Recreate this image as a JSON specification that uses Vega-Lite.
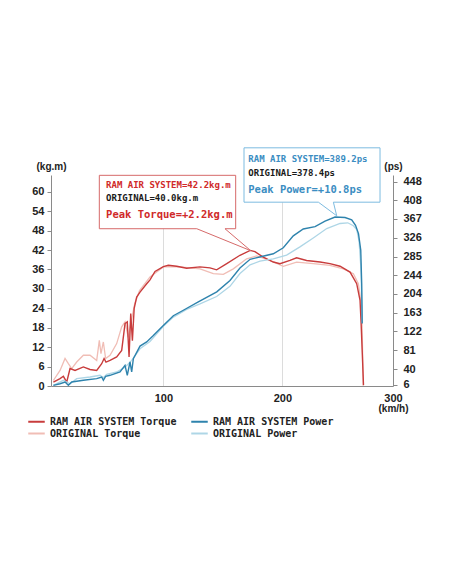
{
  "$schema": "https://vega.github.io/schema/vega-lite/v6.json",
  "width": 342,
  "height": 211,
  "autosize": {"type": "none"},
  "padding": {"left": 51, "top": 175, "right": 59, "bottom": 198},
  "background": "white",
  "config": {
    "view": {"stroke": null},
    "axis": {
      "labelFont": "Liberation Sans", "labelFontWeight": "bold", "labelFontSize": 11, "labelColor": "#222",
      "domainColor": "#8a8a8a", "tickColor": "#8a8a8a", "grid": false,
      "titleFont": "Liberation Sans", "titleFontWeight": "bold", "titleFontSize": 10, "titleColor": "#222",
      "labelOverlap": false, "labelFlush": false
    },
    "legend": {
      "orient": "none", "legendX": -21, "legendY": 240, "columns": 2, "columnPadding": 10, "rowPadding": -1,
      "symbolType": "M-1.5,0H1.5", "symbolSize": 121, "symbolStrokeWidth": 2,
      "labelFont": "DejaVu Sans Mono", "labelFontWeight": "bold", "labelFontSize": 10, "labelColor": "#222", "labelOffset": 7
    }
  },
  "datasets": {
    "torque": [
      {"series": "RAM AIR SYSTEM Torque", "kmh": 7.6, "v": 1.2},
      {"series": "RAM AIR SYSTEM Torque", "kmh": 13.2, "v": 2.3},
      {"series": "RAM AIR SYSTEM Torque", "kmh": 16, "v": 3.0},
      {"series": "RAM AIR SYSTEM Torque", "kmh": 18.8, "v": 1.2},
      {"series": "RAM AIR SYSTEM Torque", "kmh": 21.6, "v": 5.4},
      {"series": "RAM AIR SYSTEM Torque", "kmh": 25.8, "v": 4.8},
      {"series": "RAM AIR SYSTEM Torque", "kmh": 32.8, "v": 5.9},
      {"series": "RAM AIR SYSTEM Torque", "kmh": 38.4, "v": 5.1},
      {"series": "RAM AIR SYSTEM Torque", "kmh": 44, "v": 4.8},
      {"series": "RAM AIR SYSTEM Torque", "kmh": 48.2, "v": 6.9},
      {"series": "RAM AIR SYSTEM Torque", "kmh": 50.2, "v": 8.5},
      {"series": "RAM AIR SYSTEM Torque", "kmh": 51.8, "v": 7.4},
      {"series": "RAM AIR SYSTEM Torque", "kmh": 55.2, "v": 7.9},
      {"series": "RAM AIR SYSTEM Torque", "kmh": 60.8, "v": 9.0},
      {"series": "RAM AIR SYSTEM Torque", "kmh": 65, "v": 11.0},
      {"series": "RAM AIR SYSTEM Torque", "kmh": 67.8, "v": 19.3},
      {"series": "RAM AIR SYSTEM Torque", "kmh": 69.7, "v": 19.8},
      {"series": "RAM AIR SYSTEM Torque", "kmh": 71.2, "v": 9.0},
      {"series": "RAM AIR SYSTEM Torque", "kmh": 72.6, "v": 22.4},
      {"series": "RAM AIR SYSTEM Torque", "kmh": 74, "v": 14},
      {"series": "RAM AIR SYSTEM Torque", "kmh": 75.5, "v": 24},
      {"series": "RAM AIR SYSTEM Torque", "kmh": 77.6, "v": 27.5},
      {"series": "RAM AIR SYSTEM Torque", "kmh": 80.4, "v": 29},
      {"series": "RAM AIR SYSTEM Torque", "kmh": 86, "v": 31.6},
      {"series": "RAM AIR SYSTEM Torque", "kmh": 88.8, "v": 32.8},
      {"series": "RAM AIR SYSTEM Torque", "kmh": 93, "v": 35.4},
      {"series": "RAM AIR SYSTEM Torque", "kmh": 100, "v": 36.9},
      {"series": "RAM AIR SYSTEM Torque", "kmh": 104.2, "v": 37.3},
      {"series": "RAM AIR SYSTEM Torque", "kmh": 111.2, "v": 37},
      {"series": "RAM AIR SYSTEM Torque", "kmh": 119.6, "v": 36.4},
      {"series": "RAM AIR SYSTEM Torque", "kmh": 130.8, "v": 36.8},
      {"series": "RAM AIR SYSTEM Torque", "kmh": 139.2, "v": 36.5},
      {"series": "RAM AIR SYSTEM Torque", "kmh": 144.8, "v": 35.9},
      {"series": "RAM AIR SYSTEM Torque", "kmh": 153.3, "v": 37.8},
      {"series": "RAM AIR SYSTEM Torque", "kmh": 164.4, "v": 40.4},
      {"series": "RAM AIR SYSTEM Torque", "kmh": 173, "v": 41.9},
      {"series": "RAM AIR SYSTEM Torque", "kmh": 177, "v": 41.5},
      {"series": "RAM AIR SYSTEM Torque", "kmh": 184, "v": 39.8},
      {"series": "RAM AIR SYSTEM Torque", "kmh": 192.4, "v": 38.3},
      {"series": "RAM AIR SYSTEM Torque", "kmh": 198, "v": 37.8},
      {"series": "RAM AIR SYSTEM Torque", "kmh": 206.4, "v": 38.8},
      {"series": "RAM AIR SYSTEM Torque", "kmh": 212, "v": 39.6},
      {"series": "RAM AIR SYSTEM Torque", "kmh": 220.4, "v": 38.8},
      {"series": "RAM AIR SYSTEM Torque", "kmh": 231.7, "v": 38.3},
      {"series": "RAM AIR SYSTEM Torque", "kmh": 240, "v": 37.8},
      {"series": "RAM AIR SYSTEM Torque", "kmh": 248.5, "v": 37.0},
      {"series": "RAM AIR SYSTEM Torque", "kmh": 256.9, "v": 35.2},
      {"series": "RAM AIR SYSTEM Torque", "kmh": 262.5, "v": 31.6},
      {"series": "RAM AIR SYSTEM Torque", "kmh": 265.3, "v": 26.5},
      {"series": "RAM AIR SYSTEM Torque", "kmh": 266.2, "v": 19.4},
      {"series": "RAM AIR SYSTEM Torque", "kmh": 267.2, "v": 10},
      {"series": "RAM AIR SYSTEM Torque", "kmh": 268.2, "v": 0.3},
      {"series": "ORIGINAL Torque", "kmh": 7.6, "v": 1.7},
      {"series": "ORIGINAL Torque", "kmh": 13.2, "v": 4.8},
      {"series": "ORIGINAL Torque", "kmh": 17.4, "v": 8.5},
      {"series": "ORIGINAL Torque", "kmh": 20.2, "v": 6.9},
      {"series": "ORIGINAL Torque", "kmh": 23, "v": 5.4},
      {"series": "ORIGINAL Torque", "kmh": 27.2, "v": 7.4},
      {"series": "ORIGINAL Torque", "kmh": 32.8, "v": 9.5},
      {"series": "ORIGINAL Torque", "kmh": 38.4, "v": 9.5},
      {"series": "ORIGINAL Torque", "kmh": 44, "v": 7.9},
      {"series": "ORIGINAL Torque", "kmh": 46.2, "v": 14.1},
      {"series": "ORIGINAL Torque", "kmh": 47.6, "v": 10},
      {"series": "ORIGINAL Torque", "kmh": 49.6, "v": 13.6},
      {"series": "ORIGINAL Torque", "kmh": 51.5, "v": 8.5},
      {"series": "ORIGINAL Torque", "kmh": 55.2, "v": 9.5},
      {"series": "ORIGINAL Torque", "kmh": 60.8, "v": 13.1},
      {"series": "ORIGINAL Torque", "kmh": 65, "v": 18.3},
      {"series": "ORIGINAL Torque", "kmh": 67.8, "v": 19.8},
      {"series": "ORIGINAL Torque", "kmh": 70.5, "v": 15},
      {"series": "ORIGINAL Torque", "kmh": 73, "v": 20},
      {"series": "ORIGINAL Torque", "kmh": 76, "v": 25.5},
      {"series": "ORIGINAL Torque", "kmh": 80, "v": 29.5},
      {"series": "ORIGINAL Torque", "kmh": 88.8, "v": 33.7},
      {"series": "ORIGINAL Torque", "kmh": 100, "v": 36.8},
      {"series": "ORIGINAL Torque", "kmh": 114, "v": 36.8},
      {"series": "ORIGINAL Torque", "kmh": 130.8, "v": 36.2},
      {"series": "ORIGINAL Torque", "kmh": 142, "v": 34.7},
      {"series": "ORIGINAL Torque", "kmh": 150.4, "v": 34.5},
      {"series": "ORIGINAL Torque", "kmh": 158.8, "v": 36.2},
      {"series": "ORIGINAL Torque", "kmh": 170, "v": 39.3},
      {"series": "ORIGINAL Torque", "kmh": 178.4, "v": 40.2},
      {"series": "ORIGINAL Torque", "kmh": 189.6, "v": 38.8},
      {"series": "ORIGINAL Torque", "kmh": 200.8, "v": 37},
      {"series": "ORIGINAL Torque", "kmh": 212, "v": 38.3},
      {"series": "ORIGINAL Torque", "kmh": 226, "v": 37.8},
      {"series": "ORIGINAL Torque", "kmh": 240, "v": 37.3},
      {"series": "ORIGINAL Torque", "kmh": 251.3, "v": 36.2},
      {"series": "ORIGINAL Torque", "kmh": 259.7, "v": 34.7},
      {"series": "ORIGINAL Torque", "kmh": 263.9, "v": 31.6},
      {"series": "ORIGINAL Torque", "kmh": 266.7, "v": 24.4},
      {"series": "ORIGINAL Torque", "kmh": 268, "v": 0}
    ],
    "power": [
      {"series": "RAM AIR SYSTEM Power", "kmh": 7.6, "v": 4.5},
      {"series": "RAM AIR SYSTEM Power", "kmh": 13.2, "v": 8},
      {"series": "RAM AIR SYSTEM Power", "kmh": 17.4, "v": 11.7},
      {"series": "RAM AIR SYSTEM Power", "kmh": 20.2, "v": 4.5},
      {"series": "RAM AIR SYSTEM Power", "kmh": 23, "v": 11.7},
      {"series": "RAM AIR SYSTEM Power", "kmh": 32.8, "v": 15.4},
      {"series": "RAM AIR SYSTEM Power", "kmh": 44, "v": 19},
      {"series": "RAM AIR SYSTEM Power", "kmh": 48.2, "v": 22.6},
      {"series": "RAM AIR SYSTEM Power", "kmh": 49.6, "v": 15.4},
      {"series": "RAM AIR SYSTEM Power", "kmh": 51.5, "v": 24},
      {"series": "RAM AIR SYSTEM Power", "kmh": 55.2, "v": 26.3},
      {"series": "RAM AIR SYSTEM Power", "kmh": 63.6, "v": 33.5},
      {"series": "RAM AIR SYSTEM Power", "kmh": 67.8, "v": 48},
      {"series": "RAM AIR SYSTEM Power", "kmh": 69.7, "v": 26.3},
      {"series": "RAM AIR SYSTEM Power", "kmh": 72, "v": 55.3},
      {"series": "RAM AIR SYSTEM Power", "kmh": 73.4, "v": 33.5},
      {"series": "RAM AIR SYSTEM Power", "kmh": 74.8, "v": 62.7},
      {"series": "RAM AIR SYSTEM Power", "kmh": 80.4, "v": 90},
      {"series": "RAM AIR SYSTEM Power", "kmh": 86, "v": 99},
      {"series": "RAM AIR SYSTEM Power", "kmh": 91.6, "v": 113},
      {"series": "RAM AIR SYSTEM Power", "kmh": 100, "v": 135},
      {"series": "RAM AIR SYSTEM Power", "kmh": 108.4, "v": 156},
      {"series": "RAM AIR SYSTEM Power", "kmh": 116.8, "v": 168},
      {"series": "RAM AIR SYSTEM Power", "kmh": 129.4, "v": 186},
      {"series": "RAM AIR SYSTEM Power", "kmh": 144.9, "v": 208},
      {"series": "RAM AIR SYSTEM Power", "kmh": 156, "v": 233},
      {"series": "RAM AIR SYSTEM Power", "kmh": 164.4, "v": 260},
      {"series": "RAM AIR SYSTEM Power", "kmh": 172.9, "v": 279},
      {"series": "RAM AIR SYSTEM Power", "kmh": 182.7, "v": 285},
      {"series": "RAM AIR SYSTEM Power", "kmh": 192.4, "v": 291},
      {"series": "RAM AIR SYSTEM Power", "kmh": 200.8, "v": 304},
      {"series": "RAM AIR SYSTEM Power", "kmh": 209.2, "v": 330},
      {"series": "RAM AIR SYSTEM Power", "kmh": 217.6, "v": 345},
      {"series": "RAM AIR SYSTEM Power", "kmh": 227.5, "v": 350},
      {"series": "RAM AIR SYSTEM Power", "kmh": 235.9, "v": 362},
      {"series": "RAM AIR SYSTEM Power", "kmh": 244.3, "v": 371},
      {"series": "RAM AIR SYSTEM Power", "kmh": 252.7, "v": 370},
      {"series": "RAM AIR SYSTEM Power", "kmh": 258.3, "v": 365},
      {"series": "RAM AIR SYSTEM Power", "kmh": 261.5, "v": 353},
      {"series": "RAM AIR SYSTEM Power", "kmh": 264, "v": 335},
      {"series": "RAM AIR SYSTEM Power", "kmh": 265.9, "v": 299},
      {"series": "RAM AIR SYSTEM Power", "kmh": 266.7, "v": 226},
      {"series": "RAM AIR SYSTEM Power", "kmh": 267.1, "v": 139},
      {"series": "ORIGINAL Power", "kmh": 7.6, "v": 4.5},
      {"series": "ORIGINAL Power", "kmh": 16, "v": 15.4},
      {"series": "ORIGINAL Power", "kmh": 21.6, "v": 8},
      {"series": "ORIGINAL Power", "kmh": 27.2, "v": 19},
      {"series": "ORIGINAL Power", "kmh": 38.4, "v": 22.6},
      {"series": "ORIGINAL Power", "kmh": 46.8, "v": 26.3},
      {"series": "ORIGINAL Power", "kmh": 49.6, "v": 21},
      {"series": "ORIGINAL Power", "kmh": 52.4, "v": 28.5},
      {"series": "ORIGINAL Power", "kmh": 60.8, "v": 33.5},
      {"series": "ORIGINAL Power", "kmh": 67.8, "v": 44},
      {"series": "ORIGINAL Power", "kmh": 73.4, "v": 58.8},
      {"series": "ORIGINAL Power", "kmh": 80.4, "v": 84},
      {"series": "ORIGINAL Power", "kmh": 88.8, "v": 100},
      {"series": "ORIGINAL Power", "kmh": 100, "v": 133},
      {"series": "ORIGINAL Power", "kmh": 108.4, "v": 153},
      {"series": "ORIGINAL Power", "kmh": 119.6, "v": 170},
      {"series": "ORIGINAL Power", "kmh": 130.8, "v": 182},
      {"series": "ORIGINAL Power", "kmh": 144.8, "v": 198},
      {"series": "ORIGINAL Power", "kmh": 156, "v": 220},
      {"series": "ORIGINAL Power", "kmh": 164.4, "v": 248},
      {"series": "ORIGINAL Power", "kmh": 172.9, "v": 267},
      {"series": "ORIGINAL Power", "kmh": 181.2, "v": 275},
      {"series": "ORIGINAL Power", "kmh": 192.4, "v": 280},
      {"series": "ORIGINAL Power", "kmh": 203.6, "v": 288},
      {"series": "ORIGINAL Power", "kmh": 214.8, "v": 306},
      {"series": "ORIGINAL Power", "kmh": 226, "v": 325.5},
      {"series": "ORIGINAL Power", "kmh": 237.3, "v": 346},
      {"series": "ORIGINAL Power", "kmh": 248.5, "v": 357},
      {"series": "ORIGINAL Power", "kmh": 255, "v": 358.5},
      {"series": "ORIGINAL Power", "kmh": 259.7, "v": 352},
      {"series": "ORIGINAL Power", "kmh": 262.5, "v": 344},
      {"series": "ORIGINAL Power", "kmh": 264.5, "v": 318},
      {"series": "ORIGINAL Power", "kmh": 265.9, "v": 265},
      {"series": "ORIGINAL Power", "kmh": 266.8, "v": 190},
      {"series": "ORIGINAL Power", "kmh": 267.2, "v": 140}
    ],
    "boxes": [
      {"box": "torque", "x1": 46.2, "x2": 160.8, "y1": 48.6, "y2": 65.1},
      {"box": "power", "x1": 167.8, "x2": 282.1, "y1": 56.8, "y2": 73.6}
    ],
    "outline": [
      {"box": "torque", "i": 0, "kmh": 128.1, "kgm": 48.6},
      {"box": "torque", "i": 1, "kmh": 46.2, "kgm": 48.6},
      {"box": "torque", "i": 2, "kmh": 46.2, "kgm": 65.1},
      {"box": "torque", "i": 3, "kmh": 160.8, "kgm": 65.1},
      {"box": "torque", "i": 4, "kmh": 160.8, "kgm": 48.6},
      {"box": "torque", "i": 5, "kmh": 151.8, "kgm": 48.6},
      {"box": "torque", "i": 6, "kmh": 173.5, "kgm": 41.8},
      {"box": "torque", "i": 7, "kmh": 128.1, "kgm": 48.6},
      {"box": "power", "i": 0, "kmh": 230.3, "kgm": 56.8},
      {"box": "power", "i": 1, "kmh": 167.8, "kgm": 56.8},
      {"box": "power", "i": 2, "kmh": 167.8, "kgm": 73.6},
      {"box": "power", "i": 3, "kmh": 282.1, "kgm": 73.6},
      {"box": "power", "i": 4, "kmh": 282.1, "kgm": 56.8},
      {"box": "power", "i": 5, "kmh": 242.9, "kgm": 56.8},
      {"box": "power", "i": 6, "kmh": 245.7, "kgm": 52.6},
      {"box": "power", "i": 7, "kmh": 230.3, "kgm": 56.8}
    ],
    "texts": [
      {"role": "tq_ram", "label": "RAM AIR SYSTEM=42.2kg.m", "kmh": 51.9, "kgm": 62.0},
      {"role": "tq_orig", "label": "ORIGINAL=40.0kg.m", "kmh": 51.9, "kgm": 58.2},
      {"role": "tq_peak", "label": "Peak Torque=+2.2kg.m", "kmh": 51.9, "kgm": 52.9},
      {"role": "pw_ram", "label": "RAM AIR SYSTEM=389.2ps", "kmh": 171.4, "kgm": 70.0},
      {"role": "pw_orig", "label": "ORIGINAL=378.4ps", "kmh": 171.4, "kgm": 65.9},
      {"role": "pw_peak", "label": "Peak Power=+10.8ps", "kmh": 171.4, "kgm": 60.7}
    ]
  },
  "layer": [
    {
      "layer": [
        {
          "data": {"name": "torque"},
          "transform": [{"filter": "datum.series == 'ORIGINAL Torque'"}],
          "mark": {"type": "line", "strokeWidth": 1.3, "clip": false},
          "encoding": {
            "x": {"field": "kmh", "type": "quantitative", "scale": {"domain": [5.6, 293], "nice": false, "zero": false},
              "axis": {"values": [100, 200, 293], "tickCount": 20, "labelExpr": "datum.value > 250 ? '300' : datum.label", "grid": true, "gridColor": "#dcdcdc",
                "gridOpacity": {"condition": {"test": "datum.value > 250", "value": 0}, "value": 1}, "labelOverlap": false,
                "ticks": false, "tickSize": 0, "labelPadding": 6, "title": "(km/h)", "titleX": 342, "titleY": 22, "titleAlign": "center", "titleBaseline": "middle"}},
            "y": {"field": "v", "type": "quantitative", "scale": {"domain": [0, 65.2], "nice": false, "zero": false},
              "axis": {"orient": "left", "values": [0, 6, 12, 18, 24, 30, 36, 42, 48, 54, 60], "tickCount": 20, "tickSize": 4, "labelPadding": 3, "labelOverlap": false,
                "title": "(kg.m)", "titleAngle": 0, "titleX": 0, "titleY": -9, "titleAlign": "center", "titleBaseline": "middle"}},
            "color": {"field": "series", "type": "nominal", "title": null,
              "scale": {"domain": ["RAM AIR SYSTEM Torque", "ORIGINAL Torque", "RAM AIR SYSTEM Power", "ORIGINAL Power"],
                "range": ["#c83c3c", "#f0bdb5", "#2e83ad", "#aed6e6"]}}
          }
        },
        {
          "data": {"name": "torque"},
          "transform": [{"filter": "datum.series == 'RAM AIR SYSTEM Torque'"}],
          "mark": {"type": "line", "strokeWidth": 1.4, "clip": false},
          "encoding": {
            "x": {"field": "kmh", "type": "quantitative"},
            "y": {"field": "v", "type": "quantitative"},
            "color": {"field": "series", "type": "nominal", "title": null}
          }
        },
        {
          "data": {"name": "boxes"},
          "mark": {"type": "rect", "fill": "white", "stroke": null},
          "encoding": {
            "x": {"field": "x1", "type": "quantitative"},
            "x2": {"field": "x2"},
            "y": {"field": "y1", "type": "quantitative"},
            "y2": {"field": "y2"}
          }
        },
        {
          "data": {"name": "outline"},
          "transform": [{"filter": "datum.box == 'torque'"}],
          "mark": {"type": "line", "stroke": "#d66a6a", "strokeWidth": 1},
          "encoding": {
            "x": {"field": "kmh", "type": "quantitative"},
            "y": {"field": "kgm", "type": "quantitative"},
            "order": {"field": "i", "type": "quantitative"}
          }
        },
        {
          "data": {"name": "outline"},
          "transform": [{"filter": "datum.box == 'power'"}],
          "mark": {"type": "line", "stroke": "#7dbbe0", "strokeWidth": 1},
          "encoding": {
            "x": {"field": "kmh", "type": "quantitative"},
            "y": {"field": "kgm", "type": "quantitative"},
            "order": {"field": "i", "type": "quantitative"}
          }
        },
        {
          "data": {"name": "texts"},
          "transform": [{"filter": "datum.role == 'tq_ram'"}],
          "mark": {"type": "text", "align": "left", "baseline": "middle", "font": "DejaVu Sans Mono", "fontWeight": "bold", "fontSize": 9, "color": "#d02a2a"},
          "encoding": {
            "x": {"field": "kmh", "type": "quantitative"},
            "y": {"field": "kgm", "type": "quantitative"},
            "text": {"field": "label"}
          }
        },
        {
          "data": {"name": "texts"},
          "transform": [{"filter": "datum.role == 'tq_orig' || datum.role == 'pw_orig'"}],
          "mark": {"type": "text", "align": "left", "baseline": "middle", "font": "DejaVu Sans Mono", "fontWeight": "bold", "fontSize": 9, "color": "#1a1a1a"},
          "encoding": {
            "x": {"field": "kmh", "type": "quantitative"},
            "y": {"field": "kgm", "type": "quantitative"},
            "text": {"field": "label"}
          }
        },
        {
          "data": {"name": "texts"},
          "transform": [{"filter": "datum.role == 'tq_peak'"}],
          "mark": {"type": "text", "align": "left", "baseline": "middle", "font": "DejaVu Sans Mono", "fontWeight": "bold", "fontSize": 10.5, "color": "#d02a2a"},
          "encoding": {
            "x": {"field": "kmh", "type": "quantitative"},
            "y": {"field": "kgm", "type": "quantitative"},
            "text": {"field": "label"}
          }
        },
        {
          "data": {"name": "texts"},
          "transform": [{"filter": "datum.role == 'pw_ram'"}],
          "mark": {"type": "text", "align": "left", "baseline": "middle", "font": "DejaVu Sans Mono", "fontWeight": "bold", "fontSize": 9, "color": "#3b8dc2"},
          "encoding": {
            "x": {"field": "kmh", "type": "quantitative"},
            "y": {"field": "kgm", "type": "quantitative"},
            "text": {"field": "label"}
          }
        },
        {
          "data": {"name": "texts"},
          "transform": [{"filter": "datum.role == 'pw_peak'"}],
          "mark": {"type": "text", "align": "left", "baseline": "middle", "font": "DejaVu Sans Mono", "fontWeight": "bold", "fontSize": 10.5, "color": "#3b8dc2"},
          "encoding": {
            "x": {"field": "kmh", "type": "quantitative"},
            "y": {"field": "kgm", "type": "quantitative"},
            "text": {"field": "label"}
          }
        }
      ]
    },
    {
      "layer": [
        {
          "data": {"name": "power"},
          "transform": [{"filter": "datum.series == 'ORIGINAL Power'"}],
          "mark": {"type": "line", "strokeWidth": 1.3, "clip": false},
          "encoding": {
            "x": {"field": "kmh", "type": "quantitative"},
            "y": {"field": "v", "type": "quantitative", "scale": {"domain": [3, 462.6], "nice": false, "zero": false},
              "axis": {"orient": "right", "values": [6, 40, 81, 122, 163, 204, 244, 285, 326, 367, 408, 448], "tickCount": 20, "tickSize": 4, "labelPadding": 6, "labelOverlap": false,
                "title": "(ps)", "titleAngle": 0, "titleX": 0, "titleY": -9, "titleAlign": "center", "titleBaseline": "middle"}},
            "color": {"field": "series", "type": "nominal", "title": null}
          }
        },
        {
          "data": {"name": "power"},
          "transform": [{"filter": "datum.series == 'RAM AIR SYSTEM Power'"}],
          "mark": {"type": "line", "strokeWidth": 1.4, "clip": false},
          "encoding": {
            "x": {"field": "kmh", "type": "quantitative"},
            "y": {"field": "v", "type": "quantitative"},
            "color": {"field": "series", "type": "nominal", "title": null}
          }
        }
      ]
    }
  ],
  "resolve": {"scale": {"y": "independent"}}
}
